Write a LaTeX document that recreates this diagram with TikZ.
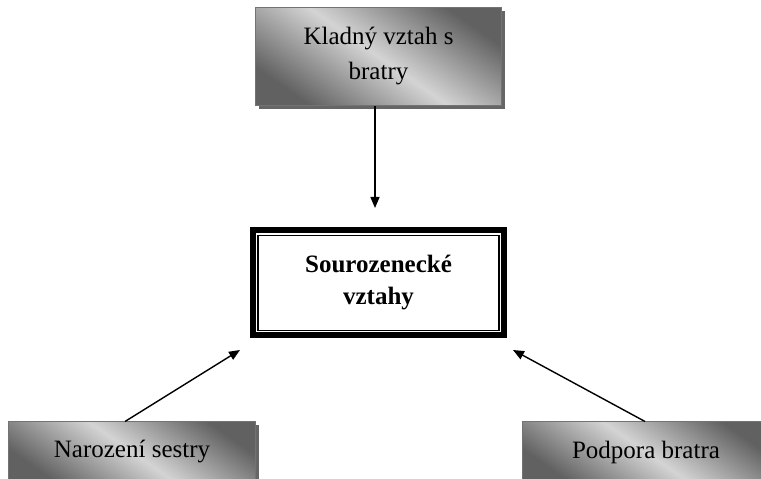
\documentclass[tikz,border=0pt]{standalone}
\usepackage{fontspec}
\setmainfont{Liberation Serif}
\usetikzlibrary{arrows.meta,shadows}

\begin{document}
\begin{tikzpicture}[x=1pt,y=1pt,>={Triangle[length=11pt,width=9pt]},
  cause/.style={draw=black!55,line width=1pt,top color=black!62,
    bottom color=black!62,middle color=black!17,shading angle=-35,
    drop shadow={shadow xshift=3.5pt,shadow yshift=-3.5pt,fill=black!60,opacity=1},
    align=center,font=\fontsize{25}{35}\selectfont},
  core/.style={draw,line width=6pt,minimum width=251pt,minimum height=105pt,
    align=center,font=\fontsize{25}{32}\selectfont\bfseries},
  link/.style={->,line width=1.4pt}]
\useasboundingbox (0,0) rectangle (761,479);
\clip (0,0) rectangle (761,479);
\node[cause,minimum width=246pt,minimum height=98pt] (klad) at (378.5,422.5) {Kladný vztah s\\bratry};
\node[core] (vztahy) at (378.5,196) {Sourozenecké\\vztahy};
\draw[line width=1.8pt] ([shift={(8,-8)}]vztahy.north west) rectangle ([shift={(-8,8)}]vztahy.south east);
\node[cause,minimum width=247pt,minimum height=60pt] (sestra) at (132,27) {Narození sestry};
\node[cause,minimum width=247pt,minimum height=60pt] (bratr) at (646,27) {Podpora bratra};
% arrow ends
\coordinate (e1) at (375,271);
\coordinate (e2) at (240,129);
\coordinate (e3) at (513,129);
\draw[link] (klad.south -| e1) -- (e1);
\draw[link] (sestra.north -| 125,0) -- (e2);
\draw[link] (bratr.north -| 645,0) -- (e3);
\end{tikzpicture}
\end{document}
